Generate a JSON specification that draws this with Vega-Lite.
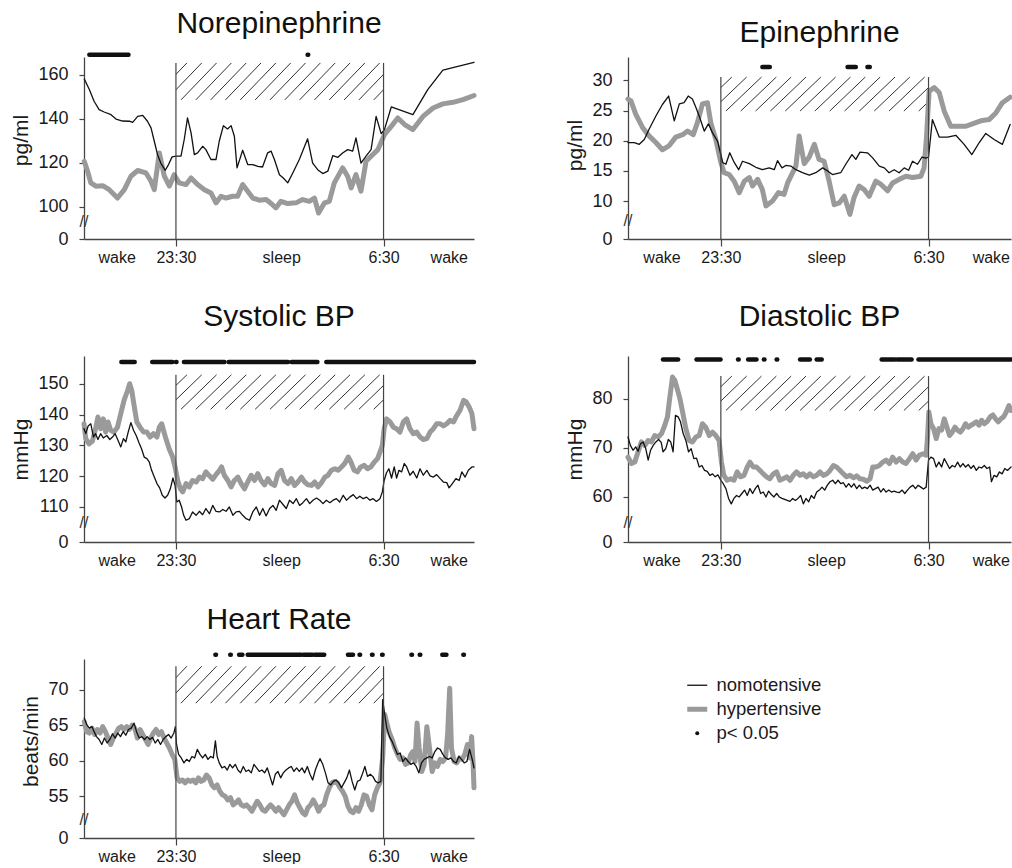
{
"$schema": "https://vega.github.io/schema/vega-lite/v6.json",
"padding": {"left": 10, "top": 8, "right": 0, "bottom": 0},
"datasets": {
"hatch": [{"h0":-0.83,"h1":0.37},{"h0":-0.33,"h1":0.87},{"h0":0.17,"h1":1.37},{"h0":0.67,"h1":1.87},{"h0":1.17,"h1":2.37},{"h0":1.67,"h1":2.87},{"h0":2.17,"h1":3.37},{"h0":2.67,"h1":3.87},{"h0":3.17,"h1":4.37},{"h0":3.67,"h1":4.87},{"h0":4.17,"h1":5.37},{"h0":4.67,"h1":5.87},{"h0":5.17,"h1":6.37},{"h0":5.67,"h1":6.87},{"h0":6.17,"h1":7.37},{"h0":6.67,"h1":7.87}],
"masks": [{"a":-1.0,"b":0},{"a":7,"b":8.0}],
"vl": [{"t":0},{"t":7}],
"brk": [{"lab":"//"}],
"ne_n": [{"t":-3.09,"v":158},{"t":-2.92,"v":153.2},{"t":-2.76,"v":147.9},{"t":-2.59,"v":144.1},{"t":-2.42,"v":143},{"t":-2.19,"v":141.8},{"t":-2.02,"v":139.8},{"t":-1.8,"v":138.9},{"t":-1.57,"v":138.8},{"t":-1.46,"v":138.3},{"t":-1.29,"v":141},{"t":-1.12,"v":141.5},{"t":-0.96,"v":138.8},{"t":-0.84,"v":135.8},{"t":-0.73,"v":129.7},{"t":-0.62,"v":123.6},{"t":-0.51,"v":119.8},{"t":-0.36,"v":116.5},{"t":-0.25,"v":119.1},{"t":-0.13,"v":122.6},{"t":0,"v":122.9},{"t":0.17,"v":122.9},{"t":0.28,"v":130.5},{"t":0.39,"v":140.3},{"t":0.51,"v":133.5},{"t":0.62,"v":123.6},{"t":0.73,"v":124.4},{"t":0.9,"v":127.4},{"t":1.01,"v":125.9},{"t":1.18,"v":121.4},{"t":1.35,"v":121.4},{"t":1.46,"v":129.7},{"t":1.6,"v":136.8},{"t":1.74,"v":135.3},{"t":1.86,"v":136.8},{"t":1.97,"v":132},{"t":2.06,"v":117.6},{"t":2.25,"v":125.6},{"t":2.42,"v":119.1},{"t":2.59,"v":119.1},{"t":2.76,"v":118.3},{"t":2.92,"v":118},{"t":3.09,"v":124.4},{"t":3.21,"v":125.2},{"t":3.32,"v":121.4},{"t":3.49,"v":114.5},{"t":3.62,"v":113},{"t":3.77,"v":110.8},{"t":3.94,"v":115.3},{"t":4.16,"v":121.4},{"t":4.44,"v":130.8},{"t":4.61,"v":119.8},{"t":4.78,"v":116.8},{"t":4.95,"v":115},{"t":5.12,"v":116.1},{"t":5.29,"v":123.2},{"t":5.46,"v":122.4},{"t":5.62,"v":124.4},{"t":5.79,"v":125.9},{"t":5.96,"v":125.2},{"t":6.07,"v":131.2},{"t":6.24,"v":119.8},{"t":6.41,"v":122.9},{"t":6.58,"v":125.9},{"t":6.75,"v":141},{"t":6.92,"v":133.2},{"t":7.03,"v":135},{"t":7.26,"v":145.3},{"t":7.99,"v":141.8},{"t":8.49,"v":153.2},{"t":9.0,"v":162},{"t":10.05,"v":165.6}],
"ne_h": [{"t":-3.09,"v":120.6},{"t":-2.98,"v":116.1},{"t":-2.87,"v":110.8},{"t":-2.7,"v":109.3},{"t":-2.47,"v":109.5},{"t":-2.25,"v":107.7},{"t":-1.97,"v":103.9},{"t":-1.74,"v":107.7},{"t":-1.52,"v":113.8},{"t":-1.29,"v":116.4},{"t":-1.01,"v":115.3},{"t":-0.84,"v":111.5},{"t":-0.73,"v":107.7},{"t":-0.56,"v":124.4},{"t":-0.39,"v":113.8},{"t":-0.22,"v":109.3},{"t":-0.06,"v":114.5},{"t":0.11,"v":110.8},{"t":0.34,"v":110},{"t":0.51,"v":113},{"t":0.73,"v":110},{"t":0.96,"v":107.7},{"t":1.18,"v":106.2},{"t":1.35,"v":101.7},{"t":1.52,"v":104.7},{"t":1.69,"v":103.9},{"t":1.91,"v":104.7},{"t":2.08,"v":104.7},{"t":2.25,"v":110},{"t":2.42,"v":107},{"t":2.59,"v":103.9},{"t":2.81,"v":102.9},{"t":3.04,"v":103.2},{"t":3.21,"v":101.4},{"t":3.37,"v":99.4},{"t":3.54,"v":102.4},{"t":3.77,"v":101.4},{"t":4.05,"v":101.7},{"t":4.27,"v":103.2},{"t":4.5,"v":102.4},{"t":4.67,"v":103.9},{"t":4.81,"v":97.1},{"t":5.01,"v":101.7},{"t":5.17,"v":102.4},{"t":5.34,"v":110.8},{"t":5.62,"v":117.6},{"t":5.79,"v":113.8},{"t":5.91,"v":108.5},{"t":6.07,"v":114.5},{"t":6.24,"v":107},{"t":6.41,"v":120.6},{"t":6.58,"v":122.9},{"t":6.81,"v":125.9},{"t":7.03,"v":132.7},{"t":7.26,"v":136.5},{"t":7.48,"v":140.3},{"t":7.71,"v":137.3},{"t":7.99,"v":135},{"t":8.33,"v":141},{"t":8.67,"v":144.8},{"t":9.0,"v":146.7},{"t":9.34,"v":147.4},{"t":9.68,"v":148.6},{"t":10.05,"v":150.5}],
"ne_sig": [{"s":-2.92,"e":-1.6},{"s":4.44,"e":4.46}],
"ep_n": [{"t":-3.13,"v":19.7},{"t":-2.92,"v":19.7},{"t":-2.75,"v":19.4},{"t":-2.58,"v":20.2},{"t":-2.42,"v":21.9},{"t":-2.19,"v":24.1},{"t":-1.97,"v":26},{"t":-1.76,"v":27.4},{"t":-1.57,"v":23.3},{"t":-1.4,"v":26.1},{"t":-1.24,"v":26.3},{"t":-1.1,"v":27.4},{"t":-0.96,"v":26.9},{"t":-0.84,"v":25.5},{"t":-0.71,"v":23.8},{"t":-0.56,"v":21.6},{"t":-0.42,"v":22.8},{"t":-0.28,"v":21.3},{"t":-0.11,"v":19.9},{"t":0.06,"v":16.4},{"t":0.17,"v":16.1},{"t":0.3,"v":18},{"t":0.45,"v":16.4},{"t":0.6,"v":15.2},{"t":0.73,"v":16.6},{"t":0.96,"v":16.2},{"t":1.18,"v":15.6},{"t":1.4,"v":15.2},{"t":1.63,"v":15.5},{"t":1.8,"v":15.2},{"t":1.91,"v":16.7},{"t":2.06,"v":15.5},{"t":2.19,"v":15.9},{"t":2.36,"v":15.8},{"t":2.53,"v":15.2},{"t":2.75,"v":14.7},{"t":2.98,"v":14.3},{"t":3.2,"v":14.7},{"t":3.43,"v":15.5},{"t":3.6,"v":15},{"t":3.76,"v":14.4},{"t":4.04,"v":14.7},{"t":4.21,"v":16.1},{"t":4.42,"v":17.7},{"t":4.55,"v":16.9},{"t":4.69,"v":18.1},{"t":4.94,"v":18},{"t":5.11,"v":17.2},{"t":5.34,"v":15.8},{"t":5.51,"v":15.5},{"t":5.67,"v":14.7},{"t":5.84,"v":15.2},{"t":6.01,"v":14.7},{"t":6.18,"v":15.5},{"t":6.33,"v":15.1},{"t":6.46,"v":16.6},{"t":6.63,"v":16.1},{"t":6.78,"v":17.3},{"t":6.91,"v":17.1},{"t":7.0,"v":17.3},{"t":7.13,"v":23.5},{"t":7.36,"v":20.6},{"t":7.64,"v":20.6},{"t":7.92,"v":20.9},{"t":8.2,"v":19.4},{"t":8.46,"v":17.7},{"t":8.71,"v":19.7},{"t":8.93,"v":21.2},{"t":9.21,"v":20.2},{"t":9.49,"v":19.4},{"t":9.75,"v":22.7}],
"ep_h": [{"t":-3.13,"v":26.9},{"t":-3.03,"v":26.6},{"t":-2.87,"v":24.4},{"t":-2.64,"v":22.2},{"t":-2.42,"v":20.8},{"t":-2.19,"v":19.7},{"t":-1.97,"v":18.5},{"t":-1.74,"v":19.2},{"t":-1.52,"v":20.6},{"t":-1.29,"v":21},{"t":-1.12,"v":21.6},{"t":-0.93,"v":21},{"t":-0.79,"v":23},{"t":-0.62,"v":26.1},{"t":-0.45,"v":26.3},{"t":-0.34,"v":23},{"t":-0.17,"v":20.2},{"t":0,"v":16.4},{"t":0.11,"v":14.7},{"t":0.28,"v":14.4},{"t":0.45,"v":13.3},{"t":0.62,"v":11.4},{"t":0.79,"v":13.3},{"t":0.96,"v":13.9},{"t":1.07,"v":12.5},{"t":1.24,"v":13.6},{"t":1.4,"v":11.9},{"t":1.52,"v":9.2},{"t":1.74,"v":10},{"t":1.94,"v":11.4},{"t":2.13,"v":11.1},{"t":2.25,"v":13},{"t":2.42,"v":14.7},{"t":2.53,"v":15.8},{"t":2.64,"v":20.8},{"t":2.81,"v":16.2},{"t":2.98,"v":17.3},{"t":3.15,"v":19.4},{"t":3.31,"v":16.9},{"t":3.48,"v":16.6},{"t":3.65,"v":13.3},{"t":3.82,"v":9.4},{"t":3.99,"v":9.7},{"t":4.16,"v":10.8},{"t":4.35,"v":7.8},{"t":4.49,"v":10.6},{"t":4.66,"v":12.5},{"t":4.83,"v":11.9},{"t":5.0,"v":10.8},{"t":5.22,"v":13.3},{"t":5.39,"v":12.8},{"t":5.62,"v":11.7},{"t":5.79,"v":13},{"t":6.01,"v":13.6},{"t":6.24,"v":14.1},{"t":6.46,"v":13.9},{"t":6.74,"v":14.1},{"t":6.85,"v":15.5},{"t":6.93,"v":20.5},{"t":7.02,"v":28.2},{"t":7.19,"v":28.8},{"t":7.36,"v":28},{"t":7.53,"v":24.9},{"t":7.75,"v":22.4},{"t":7.98,"v":22.4},{"t":8.26,"v":22.4},{"t":8.48,"v":22.8},{"t":8.76,"v":23.3},{"t":9.04,"v":23.5},{"t":9.27,"v":24.6},{"t":9.49,"v":26.3},{"t":9.75,"v":27.2}],
"ep_sig": [{"s":1.4,"e":1.65},{"s":4.27,"e":4.55},{"s":4.94,"e":5.02}],
"sy_n": [{"t":-3.1,"v":135.4},{"t":-3.04,"v":133.8},{"t":-2.96,"v":136.3},{"t":-2.87,"v":137},{"t":-2.78,"v":132.7},{"t":-2.71,"v":133.8},{"t":-2.63,"v":131.9},{"t":-2.54,"v":133.8},{"t":-2.45,"v":132.4},{"t":-2.33,"v":133.2},{"t":-2.23,"v":131.9},{"t":-2.14,"v":132.7},{"t":-2.05,"v":133.8},{"t":-1.95,"v":131.6},{"t":-1.86,"v":129.5},{"t":-1.77,"v":132.2},{"t":-1.69,"v":131.1},{"t":-1.61,"v":134.3},{"t":-1.52,"v":137.4},{"t":-1.43,"v":134.9},{"t":-1.34,"v":133.2},{"t":-1.25,"v":130.9},{"t":-1.16,"v":128.9},{"t":-1.07,"v":126.2},{"t":-0.98,"v":125.7},{"t":-0.9,"v":124.6},{"t":-0.82,"v":121.9},{"t":-0.73,"v":119.7},{"t":-0.64,"v":117.6},{"t":-0.55,"v":116.2},{"t":-0.46,"v":113.8},{"t":-0.37,"v":112.9},{"t":-0.28,"v":113.8},{"t":-0.19,"v":115.9},{"t":-0.1,"v":119.4},{"t":-0.03,"v":117},{"t":0.03,"v":111.6},{"t":0.11,"v":112.2},{"t":0.19,"v":110},{"t":0.26,"v":107.3},{"t":0.34,"v":105.7},{"t":0.45,"v":106.2},{"t":0.56,"v":108.4},{"t":0.68,"v":107.3},{"t":0.79,"v":108.6},{"t":0.9,"v":107.5},{"t":1.01,"v":109.5},{"t":1.13,"v":107.8},{"t":1.24,"v":110.5},{"t":1.35,"v":108.6},{"t":1.47,"v":108.4},{"t":1.58,"v":109.2},{"t":1.69,"v":108.6},{"t":1.8,"v":110},{"t":1.92,"v":107.3},{"t":2.03,"v":108.4},{"t":2.14,"v":108.6},{"t":2.25,"v":107.3},{"t":2.37,"v":106.2},{"t":2.48,"v":105.7},{"t":2.59,"v":108.4},{"t":2.71,"v":110},{"t":2.82,"v":107.3},{"t":2.93,"v":109.5},{"t":3.04,"v":107.1},{"t":3.16,"v":109.5},{"t":3.27,"v":110.5},{"t":3.38,"v":108.9},{"t":3.49,"v":112.2},{"t":3.61,"v":110.8},{"t":3.72,"v":109.5},{"t":3.83,"v":112.2},{"t":3.95,"v":111.1},{"t":4.06,"v":112.7},{"t":4.17,"v":110.5},{"t":4.28,"v":111.4},{"t":4.4,"v":112.7},{"t":4.51,"v":111.1},{"t":4.62,"v":112.2},{"t":4.74,"v":112.9},{"t":4.85,"v":112.2},{"t":4.96,"v":111.1},{"t":5.07,"v":112.2},{"t":5.19,"v":111.4},{"t":5.3,"v":112.2},{"t":5.41,"v":112.7},{"t":5.52,"v":111.6},{"t":5.64,"v":113.8},{"t":5.75,"v":112.2},{"t":5.86,"v":113.2},{"t":5.98,"v":114},{"t":6.09,"v":112.7},{"t":6.2,"v":113.5},{"t":6.31,"v":112.7},{"t":6.43,"v":113.2},{"t":6.54,"v":112.2},{"t":6.65,"v":112.7},{"t":6.76,"v":111.8},{"t":6.88,"v":112.7},{"t":6.96,"v":114.9},{"t":7.02,"v":118.6},{"t":7.1,"v":121.1},{"t":7.18,"v":122.4},{"t":7.27,"v":119.4},{"t":7.36,"v":123},{"t":7.44,"v":119.4},{"t":7.52,"v":121.9},{"t":7.61,"v":121.4},{"t":7.7,"v":124.1},{"t":7.78,"v":123},{"t":7.89,"v":120.3},{"t":8.0,"v":121.6},{"t":8.12,"v":119.4},{"t":8.23,"v":122.4},{"t":8.34,"v":120.3},{"t":8.46,"v":121.9},{"t":8.57,"v":120.1},{"t":8.68,"v":119.7},{"t":8.79,"v":120.5},{"t":8.91,"v":119.2},{"t":9.02,"v":118.1},{"t":9.13,"v":117.9},{"t":9.21,"v":116.2},{"t":9.32,"v":117.6},{"t":9.44,"v":119.2},{"t":9.55,"v":118.6},{"t":9.64,"v":121.4},{"t":9.75,"v":119.7},{"t":9.86,"v":121.9},{"t":9.98,"v":123},{"t":10.05,"v":123}],
"sy_h": [{"t":-3.1,"v":137},{"t":-3.04,"v":132.2},{"t":-2.93,"v":130.5},{"t":-2.82,"v":131.3},{"t":-2.71,"v":135.4},{"t":-2.63,"v":139.2},{"t":-2.54,"v":135.4},{"t":-2.45,"v":138.6},{"t":-2.37,"v":134.3},{"t":-2.29,"v":137.6},{"t":-2.2,"v":134.9},{"t":-2.09,"v":134.3},{"t":-1.97,"v":135.9},{"t":-1.86,"v":140.3},{"t":-1.75,"v":144.6},{"t":-1.63,"v":147.8},{"t":-1.56,"v":150},{"t":-1.49,"v":147.8},{"t":-1.41,"v":142.9},{"t":-1.32,"v":137.6},{"t":-1.21,"v":135.9},{"t":-1.09,"v":134.3},{"t":-0.98,"v":134.3},{"t":-0.87,"v":132.7},{"t":-0.76,"v":133.8},{"t":-0.64,"v":132.7},{"t":-0.56,"v":135.9},{"t":-0.48,"v":137},{"t":-0.42,"v":134.9},{"t":-0.34,"v":132.2},{"t":-0.23,"v":128.9},{"t":-0.11,"v":126.2},{"t":-0.03,"v":123},{"t":0.06,"v":118.6},{"t":0.15,"v":115.9},{"t":0.23,"v":114.9},{"t":0.34,"v":117.6},{"t":0.45,"v":116.5},{"t":0.56,"v":118.6},{"t":0.68,"v":118.1},{"t":0.79,"v":119.7},{"t":0.9,"v":119.2},{"t":1.01,"v":121.4},{"t":1.13,"v":120.1},{"t":1.24,"v":119},{"t":1.35,"v":120.5},{"t":1.47,"v":121.9},{"t":1.54,"v":123},{"t":1.63,"v":120.3},{"t":1.75,"v":118.6},{"t":1.86,"v":116.5},{"t":1.97,"v":118.6},{"t":2.09,"v":119.7},{"t":2.2,"v":117.6},{"t":2.31,"v":115.9},{"t":2.42,"v":118.1},{"t":2.54,"v":120.3},{"t":2.65,"v":118.6},{"t":2.76,"v":120.8},{"t":2.87,"v":118.6},{"t":2.99,"v":117.2},{"t":3.1,"v":119.2},{"t":3.21,"v":117.6},{"t":3.33,"v":117},{"t":3.44,"v":120.8},{"t":3.55,"v":121.9},{"t":3.66,"v":118.6},{"t":3.78,"v":117.6},{"t":3.89,"v":119.2},{"t":4.0,"v":117},{"t":4.11,"v":118.1},{"t":4.23,"v":119.7},{"t":4.34,"v":118.1},{"t":4.45,"v":117.2},{"t":4.57,"v":117},{"t":4.68,"v":118.1},{"t":4.79,"v":116.5},{"t":4.9,"v":117.8},{"t":5.02,"v":119.7},{"t":5.13,"v":120.3},{"t":5.24,"v":121.9},{"t":5.36,"v":122.4},{"t":5.47,"v":121.9},{"t":5.58,"v":123},{"t":5.69,"v":124.1},{"t":5.81,"v":126.2},{"t":5.9,"v":124.6},{"t":6.01,"v":121.9},{"t":6.12,"v":121.4},{"t":6.23,"v":123},{"t":6.35,"v":123.5},{"t":6.46,"v":122.4},{"t":6.57,"v":123},{"t":6.69,"v":124.6},{"t":6.8,"v":125.7},{"t":6.88,"v":127.8},{"t":6.96,"v":130},{"t":7.02,"v":135.4},{"t":7.1,"v":138.6},{"t":7.22,"v":137.6},{"t":7.33,"v":135.9},{"t":7.44,"v":135.4},{"t":7.55,"v":134.3},{"t":7.67,"v":137.6},{"t":7.78,"v":138.6},{"t":7.89,"v":135.4},{"t":8.0,"v":133.8},{"t":8.12,"v":134.3},{"t":8.23,"v":132.7},{"t":8.34,"v":131.9},{"t":8.46,"v":132.2},{"t":8.57,"v":134.3},{"t":8.68,"v":135.4},{"t":8.79,"v":137},{"t":8.91,"v":137},{"t":9.02,"v":136.3},{"t":9.13,"v":137},{"t":9.24,"v":138.1},{"t":9.36,"v":137.6},{"t":9.47,"v":139.7},{"t":9.58,"v":141.4},{"t":9.7,"v":144.6},{"t":9.79,"v":144.1},{"t":9.89,"v":142.4},{"t":9.98,"v":140.3},{"t":10.05,"v":135.4}],
"sy_sig": [{"s":-1.84,"e":-1.39},{"s":-0.8,"e":-0.12},{"s":0.0,"e":0.02},{"s":0.27,"e":1.64},{"s":1.78,"e":3.78},{"s":3.9,"e":4.77},{"s":5.07,"e":10.05}],
"di_n": [{"t":-3.13,"v":72.2},{"t":-3.05,"v":70.5},{"t":-2.96,"v":69.5},{"t":-2.87,"v":70.2},{"t":-2.79,"v":69.3},{"t":-2.71,"v":70.8},{"t":-2.62,"v":71.2},{"t":-2.53,"v":69.8},{"t":-2.45,"v":67.5},{"t":-2.37,"v":69.5},{"t":-2.28,"v":70.5},{"t":-2.19,"v":71.2},{"t":-2.1,"v":71.7},{"t":-2.01,"v":71.1},{"t":-1.95,"v":69.2},{"t":-1.86,"v":69.8},{"t":-1.77,"v":71.7},{"t":-1.69,"v":71.2},{"t":-1.61,"v":69.2},{"t":-1.53,"v":76.6},{"t":-1.44,"v":76.3},{"t":-1.36,"v":75.3},{"t":-1.27,"v":72.9},{"t":-1.18,"v":71.5},{"t":-1.09,"v":69.2},{"t":-1.0,"v":69.8},{"t":-0.91,"v":67.8},{"t":-0.82,"v":67.9},{"t":-0.73,"v":66.1},{"t":-0.64,"v":66.4},{"t":-0.55,"v":65.4},{"t":-0.46,"v":65.2},{"t":-0.37,"v":64.4},{"t":-0.28,"v":64.7},{"t":-0.19,"v":64.1},{"t":-0.1,"v":64.5},{"t":0,"v":63.4},{"t":0.08,"v":62.7},{"t":0.17,"v":61.7},{"t":0.26,"v":59.7},{"t":0.35,"v":58.6},{"t":0.44,"v":59.7},{"t":0.53,"v":60.3},{"t":0.62,"v":60},{"t":0.71,"v":60.7},{"t":0.8,"v":61.4},{"t":0.89,"v":60.3},{"t":0.98,"v":61.7},{"t":1.07,"v":60.7},{"t":1.16,"v":61.7},{"t":1.25,"v":62.4},{"t":1.34,"v":60.7},{"t":1.43,"v":61},{"t":1.52,"v":60},{"t":1.61,"v":61.2},{"t":1.7,"v":60.5},{"t":1.79,"v":60},{"t":1.88,"v":60.7},{"t":1.97,"v":60},{"t":2.06,"v":59.7},{"t":2.15,"v":59.5},{"t":2.24,"v":59.3},{"t":2.33,"v":59.1},{"t":2.42,"v":59.7},{"t":2.51,"v":59.3},{"t":2.6,"v":59.7},{"t":2.69,"v":60.3},{"t":2.78,"v":58.6},{"t":2.87,"v":59.7},{"t":2.96,"v":59},{"t":3.05,"v":60.3},{"t":3.14,"v":59.7},{"t":3.23,"v":61},{"t":3.32,"v":61.4},{"t":3.41,"v":62},{"t":3.5,"v":61.4},{"t":3.59,"v":62.4},{"t":3.68,"v":63.1},{"t":3.77,"v":63.4},{"t":3.86,"v":62.7},{"t":3.95,"v":63.4},{"t":4.04,"v":62.7},{"t":4.13,"v":62.9},{"t":4.22,"v":62},{"t":4.31,"v":62.7},{"t":4.4,"v":62},{"t":4.49,"v":62.7},{"t":4.58,"v":61.7},{"t":4.67,"v":62.4},{"t":4.76,"v":61.7},{"t":4.85,"v":62},{"t":4.94,"v":61.7},{"t":5.03,"v":62.4},{"t":5.12,"v":61.4},{"t":5.21,"v":61.7},{"t":5.3,"v":62},{"t":5.39,"v":61},{"t":5.48,"v":61.7},{"t":5.57,"v":61},{"t":5.66,"v":61.4},{"t":5.75,"v":61},{"t":5.84,"v":61.2},{"t":5.93,"v":61},{"t":6.02,"v":60.9},{"t":6.11,"v":61.4},{"t":6.2,"v":60.7},{"t":6.29,"v":61.4},{"t":6.38,"v":62},{"t":6.47,"v":62.4},{"t":6.56,"v":61.7},{"t":6.65,"v":62.4},{"t":6.74,"v":62},{"t":6.83,"v":61.6},{"t":6.92,"v":62},{"t":7.0,"v":67.5},{"t":7.08,"v":68.1},{"t":7.17,"v":67.8},{"t":7.26,"v":66.1},{"t":7.35,"v":67.1},{"t":7.44,"v":66.1},{"t":7.53,"v":67.8},{"t":7.62,"v":66.8},{"t":7.71,"v":65.8},{"t":7.8,"v":66.4},{"t":7.89,"v":66.1},{"t":7.98,"v":67.1},{"t":8.07,"v":66.1},{"t":8.16,"v":66.8},{"t":8.25,"v":66.1},{"t":8.34,"v":66.6},{"t":8.43,"v":65.8},{"t":8.52,"v":66.4},{"t":8.61,"v":65.4},{"t":8.7,"v":66.1},{"t":8.79,"v":65.9},{"t":8.88,"v":66.4},{"t":8.97,"v":65.8},{"t":9.06,"v":66.1},{"t":9.12,"v":63.1},{"t":9.21,"v":64.4},{"t":9.3,"v":64.1},{"t":9.39,"v":65.1},{"t":9.48,"v":64.7},{"t":9.57,"v":65.8},{"t":9.66,"v":65.4},{"t":9.78,"v":66.1}],
"di_h": [{"t":-3.13,"v":68.1},{"t":-3.01,"v":66.8},{"t":-2.9,"v":67.1},{"t":-2.79,"v":69.2},{"t":-2.68,"v":71.2},{"t":-2.56,"v":70.5},{"t":-2.45,"v":71.5},{"t":-2.34,"v":71.2},{"t":-2.23,"v":72.5},{"t":-2.11,"v":72.2},{"t":-2.0,"v":72.9},{"t":-1.89,"v":74.6},{"t":-1.8,"v":76.3},{"t":-1.72,"v":80.3},{"t":-1.63,"v":84.4},{"t":-1.55,"v":83.7},{"t":-1.47,"v":82},{"t":-1.38,"v":80},{"t":-1.29,"v":77.3},{"t":-1.18,"v":73.9},{"t":-1.07,"v":71.5},{"t":-0.96,"v":71.2},{"t":-0.84,"v":72.2},{"t":-0.73,"v":72.5},{"t":-0.62,"v":74.9},{"t":-0.51,"v":74.2},{"t":-0.39,"v":72.5},{"t":-0.28,"v":73.2},{"t":-0.17,"v":72.5},{"t":-0.06,"v":71.5},{"t":0.02,"v":67.1},{"t":0.1,"v":64.4},{"t":0.21,"v":63.4},{"t":0.33,"v":63.7},{"t":0.44,"v":63.4},{"t":0.55,"v":65.1},{"t":0.66,"v":64.1},{"t":0.78,"v":64.4},{"t":0.89,"v":66.1},{"t":0.98,"v":67.1},{"t":1.09,"v":66.1},{"t":1.2,"v":66.1},{"t":1.32,"v":65.4},{"t":1.43,"v":64.7},{"t":1.54,"v":64.1},{"t":1.65,"v":63.7},{"t":1.77,"v":64.7},{"t":1.88,"v":65.1},{"t":1.99,"v":63.4},{"t":2.1,"v":63.7},{"t":2.22,"v":64.1},{"t":2.33,"v":63.4},{"t":2.44,"v":64.4},{"t":2.55,"v":65.1},{"t":2.67,"v":64.4},{"t":2.78,"v":64.7},{"t":2.89,"v":64.1},{"t":3.0,"v":64.7},{"t":3.12,"v":64.1},{"t":3.23,"v":64.4},{"t":3.34,"v":65.1},{"t":3.45,"v":64.4},{"t":3.57,"v":64.7},{"t":3.68,"v":65.4},{"t":3.79,"v":66.4},{"t":3.9,"v":66.1},{"t":4.02,"v":65.4},{"t":4.13,"v":64.7},{"t":4.24,"v":64.1},{"t":4.35,"v":64.4},{"t":4.47,"v":63.9},{"t":4.58,"v":64.3},{"t":4.69,"v":63.7},{"t":4.8,"v":63.6},{"t":4.92,"v":63.2},{"t":5.03,"v":63.7},{"t":5.12,"v":66.1},{"t":5.23,"v":66.1},{"t":5.34,"v":66.4},{"t":5.46,"v":67.1},{"t":5.57,"v":67.5},{"t":5.68,"v":66.8},{"t":5.79,"v":68.1},{"t":5.91,"v":67.1},{"t":6.02,"v":67.8},{"t":6.13,"v":67.1},{"t":6.24,"v":66.8},{"t":6.36,"v":67.8},{"t":6.47,"v":68.8},{"t":6.58,"v":67.5},{"t":6.69,"v":68.5},{"t":6.81,"v":68.8},{"t":6.92,"v":68.5},{"t":6.97,"v":72.5},{"t":7.01,"v":77.3},{"t":7.08,"v":74.9},{"t":7.17,"v":73.9},{"t":7.26,"v":71.9},{"t":7.35,"v":73.9},{"t":7.44,"v":73.6},{"t":7.53,"v":75.9},{"t":7.62,"v":74.2},{"t":7.71,"v":72.5},{"t":7.8,"v":73.2},{"t":7.89,"v":74.2},{"t":7.98,"v":73.6},{"t":8.07,"v":73.2},{"t":8.16,"v":73.9},{"t":8.25,"v":74.9},{"t":8.34,"v":74.2},{"t":8.43,"v":74.6},{"t":8.52,"v":74.9},{"t":8.61,"v":75.3},{"t":8.7,"v":74.6},{"t":8.79,"v":75.6},{"t":8.88,"v":74.9},{"t":8.97,"v":75.3},{"t":9.08,"v":76.3},{"t":9.17,"v":76.7},{"t":9.26,"v":75.9},{"t":9.35,"v":75.3},{"t":9.44,"v":75.9},{"t":9.53,"v":76.3},{"t":9.62,"v":77.3},{"t":9.71,"v":78.6},{"t":9.78,"v":77.6}],
"di_sig": [{"s":-1.95,"e":-1.44},{"s":-0.82,"e":-0.01},{"s":0.58,"e":0.6},{"s":0.92,"e":1.2},{"s":1.45,"e":1.47},{"s":1.88,"e":1.9},{"s":2.67,"e":3.0},{"s":3.23,"e":3.4},{"s":5.42,"e":5.87},{"s":5.95,"e":6.43},{"s":6.66,"e":9.78}],
"hr_n": [{"t":-3.09,"v":66},{"t":-3.01,"v":65.1},{"t":-2.92,"v":64.6},{"t":-2.83,"v":64.8},{"t":-2.76,"v":64.1},{"t":-2.68,"v":63.4},{"t":-2.59,"v":63},{"t":-2.5,"v":62.3},{"t":-2.41,"v":63.2},{"t":-2.32,"v":62.5},{"t":-2.23,"v":63},{"t":-2.14,"v":63.8},{"t":-2.05,"v":63.2},{"t":-1.96,"v":63.9},{"t":-1.87,"v":63.4},{"t":-1.78,"v":64.1},{"t":-1.69,"v":63.6},{"t":-1.6,"v":64.4},{"t":-1.51,"v":64.6},{"t":-1.41,"v":65.3},{"t":-1.33,"v":64.1},{"t":-1.24,"v":63.2},{"t":-1.15,"v":63.4},{"t":-1.06,"v":63},{"t":-0.97,"v":63.4},{"t":-0.88,"v":63},{"t":-0.79,"v":63.3},{"t":-0.7,"v":62.5},{"t":-0.61,"v":63},{"t":-0.52,"v":62.3},{"t":-0.43,"v":63},{"t":-0.34,"v":63.4},{"t":-0.25,"v":63.7},{"t":-0.16,"v":63.2},{"t":-0.07,"v":63.9},{"t":-0.02,"v":64.8},{"t":0.02,"v":62.3},{"t":0.09,"v":60.9},{"t":0.18,"v":60.4},{"t":0.27,"v":59.7},{"t":0.36,"v":60.2},{"t":0.45,"v":59.9},{"t":0.54,"v":60.6},{"t":0.63,"v":60.4},{"t":0.72,"v":61.6},{"t":0.81,"v":60.9},{"t":0.9,"v":60.4},{"t":0.99,"v":60.9},{"t":1.08,"v":60.2},{"t":1.17,"v":60.6},{"t":1.26,"v":60.4},{"t":1.33,"v":62.8},{"t":1.39,"v":60.6},{"t":1.46,"v":59.7},{"t":1.55,"v":59},{"t":1.64,"v":59.2},{"t":1.73,"v":58.7},{"t":1.82,"v":59.5},{"t":1.91,"v":59},{"t":2.0,"v":59.5},{"t":2.09,"v":58.7},{"t":2.18,"v":58.3},{"t":2.27,"v":59.2},{"t":2.36,"v":58.5},{"t":2.45,"v":58.7},{"t":2.54,"v":58.3},{"t":2.63,"v":59.5},{"t":2.72,"v":59},{"t":2.81,"v":58.5},{"t":2.9,"v":58.7},{"t":2.99,"v":58.3},{"t":3.08,"v":59},{"t":3.17,"v":57.8},{"t":3.26,"v":56.6},{"t":3.35,"v":58.1},{"t":3.44,"v":58.5},{"t":3.53,"v":57.6},{"t":3.62,"v":58.3},{"t":3.71,"v":58.7},{"t":3.8,"v":59},{"t":3.89,"v":59.2},{"t":3.98,"v":58.5},{"t":4.07,"v":59},{"t":4.16,"v":58.5},{"t":4.25,"v":59},{"t":4.34,"v":58.3},{"t":4.43,"v":59.2},{"t":4.52,"v":58.1},{"t":4.61,"v":57.3},{"t":4.7,"v":58.7},{"t":4.79,"v":59.7},{"t":4.86,"v":60.3},{"t":4.95,"v":59.5},{"t":5.04,"v":58.3},{"t":5.13,"v":56.9},{"t":5.22,"v":56.6},{"t":5.31,"v":57.1},{"t":5.4,"v":57.3},{"t":5.49,"v":56.9},{"t":5.58,"v":56.2},{"t":5.67,"v":56.9},{"t":5.76,"v":57.6},{"t":5.85,"v":58.7},{"t":5.94,"v":57.1},{"t":6.03,"v":55.9},{"t":6.12,"v":57.1},{"t":6.21,"v":57.3},{"t":6.3,"v":58.3},{"t":6.37,"v":59.2},{"t":6.46,"v":57.8},{"t":6.55,"v":58.1},{"t":6.64,"v":57.8},{"t":6.73,"v":57.1},{"t":6.82,"v":56.9},{"t":6.91,"v":57.1},{"t":6.97,"v":68.6},{"t":7.04,"v":66.5},{"t":7.11,"v":64.6},{"t":7.2,"v":63.4},{"t":7.29,"v":62.7},{"t":7.38,"v":61.8},{"t":7.47,"v":60.9},{"t":7.56,"v":61.1},{"t":7.65,"v":59.9},{"t":7.74,"v":60.4},{"t":7.83,"v":59.9},{"t":7.92,"v":59.5},{"t":8.01,"v":59.7},{"t":8.1,"v":59.2},{"t":8.19,"v":58.3},{"t":8.28,"v":59.7},{"t":8.37,"v":60.2},{"t":8.46,"v":60.4},{"t":8.55,"v":60.6},{"t":8.64,"v":60.4},{"t":8.73,"v":61.3},{"t":8.82,"v":61.8},{"t":8.91,"v":61.6},{"t":9.0,"v":60.9},{"t":9.09,"v":60.4},{"t":9.18,"v":60.2},{"t":9.27,"v":60.4},{"t":9.36,"v":59.9},{"t":9.45,"v":59.7},{"t":9.54,"v":60.6},{"t":9.63,"v":60.2},{"t":9.72,"v":59.7},{"t":9.81,"v":59.9},{"t":9.9,"v":61.6},{"t":9.99,"v":60.2},{"t":10.05,"v":59}],
"hr_h": [{"t":-3.09,"v":65.5},{"t":-3.01,"v":64.1},{"t":-2.92,"v":63.9},{"t":-2.83,"v":64.6},{"t":-2.74,"v":63.7},{"t":-2.65,"v":64.4},{"t":-2.56,"v":63.9},{"t":-2.47,"v":64.8},{"t":-2.38,"v":64.1},{"t":-2.29,"v":63.2},{"t":-2.2,"v":62.3},{"t":-2.11,"v":63.2},{"t":-2.02,"v":63.9},{"t":-1.93,"v":64.6},{"t":-1.84,"v":64.8},{"t":-1.75,"v":64.4},{"t":-1.66,"v":64.8},{"t":-1.57,"v":64.4},{"t":-1.48,"v":65},{"t":-1.39,"v":64.6},{"t":-1.3,"v":63.2},{"t":-1.21,"v":64.4},{"t":-1.12,"v":63.7},{"t":-1.03,"v":63},{"t":-0.94,"v":62.3},{"t":-0.85,"v":63.2},{"t":-0.76,"v":63.9},{"t":-0.67,"v":64.4},{"t":-0.58,"v":63.7},{"t":-0.49,"v":64.1},{"t":-0.4,"v":63.2},{"t":-0.31,"v":62.5},{"t":-0.22,"v":61.8},{"t":-0.13,"v":60.9},{"t":-0.04,"v":60.2},{"t":0.04,"v":57.6},{"t":0.13,"v":57.1},{"t":0.22,"v":57.3},{"t":0.31,"v":56.9},{"t":0.4,"v":57.3},{"t":0.49,"v":57.1},{"t":0.58,"v":57.3},{"t":0.67,"v":56.9},{"t":0.76,"v":57.6},{"t":0.85,"v":57.1},{"t":0.94,"v":57.3},{"t":1.03,"v":58},{"t":1.12,"v":57.6},{"t":1.21,"v":56.6},{"t":1.3,"v":56.2},{"t":1.39,"v":56.6},{"t":1.48,"v":55.7},{"t":1.57,"v":55.2},{"t":1.66,"v":55},{"t":1.75,"v":54.5},{"t":1.84,"v":54.8},{"t":1.93,"v":53.8},{"t":2.02,"v":54.1},{"t":2.11,"v":54.5},{"t":2.2,"v":53.8},{"t":2.29,"v":53.6},{"t":2.38,"v":53.8},{"t":2.47,"v":53.4},{"t":2.56,"v":52.9},{"t":2.65,"v":53.6},{"t":2.74,"v":54.3},{"t":2.83,"v":53.8},{"t":2.92,"v":53.1},{"t":3.01,"v":52.9},{"t":3.1,"v":53.4},{"t":3.19,"v":53.8},{"t":3.28,"v":53.4},{"t":3.37,"v":52.9},{"t":3.46,"v":53.4},{"t":3.55,"v":52.9},{"t":3.64,"v":52.4},{"t":3.73,"v":53.1},{"t":3.82,"v":53.8},{"t":3.91,"v":54.3},{"t":4.0,"v":55.2},{"t":4.09,"v":54.1},{"t":4.18,"v":53.4},{"t":4.27,"v":52.7},{"t":4.36,"v":52.4},{"t":4.45,"v":53.4},{"t":4.54,"v":53.8},{"t":4.63,"v":54.5},{"t":4.72,"v":53.8},{"t":4.81,"v":52.9},{"t":4.9,"v":53.6},{"t":4.99,"v":53.8},{"t":5.08,"v":55.2},{"t":5.17,"v":56.2},{"t":5.26,"v":56.9},{"t":5.35,"v":57.1},{"t":5.44,"v":56.9},{"t":5.53,"v":56.2},{"t":5.62,"v":55.7},{"t":5.71,"v":55},{"t":5.8,"v":53.6},{"t":5.89,"v":52.9},{"t":5.98,"v":52.7},{"t":6.07,"v":53.4},{"t":6.16,"v":52.9},{"t":6.25,"v":53.8},{"t":6.34,"v":55.2},{"t":6.43,"v":55},{"t":6.52,"v":53.8},{"t":6.61,"v":53.1},{"t":6.7,"v":55.2},{"t":6.79,"v":56.2},{"t":6.88,"v":56.9},{"t":6.97,"v":60.4},{"t":7.04,"v":66.5},{"t":7.11,"v":65.3},{"t":7.2,"v":63.9},{"t":7.29,"v":63},{"t":7.38,"v":61.8},{"t":7.47,"v":60.9},{"t":7.56,"v":60.2},{"t":7.65,"v":60.4},{"t":7.74,"v":59.5},{"t":7.83,"v":59.7},{"t":7.92,"v":60.9},{"t":7.99,"v":61.3},{"t":8.06,"v":59.9},{"t":8.13,"v":65.3},{"t":8.2,"v":61.8},{"t":8.29,"v":58.5},{"t":8.37,"v":59.5},{"t":8.46,"v":64.8},{"t":8.55,"v":61.8},{"t":8.64,"v":58.5},{"t":8.73,"v":59.7},{"t":8.82,"v":59.2},{"t":8.91,"v":60.2},{"t":9.0,"v":59.9},{"t":9.09,"v":60.4},{"t":9.16,"v":63.7},{"t":9.23,"v":70.2},{"t":9.29,"v":61.8},{"t":9.38,"v":59.9},{"t":9.47,"v":59.7},{"t":9.56,"v":60.4},{"t":9.65,"v":60.2},{"t":9.74,"v":60.9},{"t":9.83,"v":62.3},{"t":9.9,"v":60.4},{"t":9.97,"v":63.4},{"t":10.02,"v":59.5},{"t":10.05,"v":56.2}],
"hr_sig": [{"s":1.33,"e":1.35},{"s":1.83,"e":1.85},{"s":2.13,"e":2.24},{"s":2.42,"e":4.22},{"s":4.3,"e":4.6},{"s":4.68,"e":5.0},{"s":5.8,"e":5.97},{"s":6.19,"e":6.21},{"s":6.61,"e":6.63},{"s":6.95,"e":6.97},{"s":7.94,"e":7.96},{"s":8.22,"e":8.24},{"s":8.98,"e":9.12},{"s":9.69,"e":9.71}]
},
"columns": 2,
"spacing": {"row": 117, "column": 154},
"bounds": "flush",
"align": "each",
"resolve": {"scale": {"x": "independent", "y": "independent", "stroke": "independent"}, "axis": {"x": "independent", "y": "independent"}},
"concat": [
{
 "width": 390, "height": 182,
 "title": {"text": "Norepinephrine", "offset": 14},
 "layer": [
  {"data": {"name": "hatch"}, "mark": {"type": "rule", "stroke": "#333333", "strokeWidth": 1},
   "encoding": {
    "x": {"field": "h0", "type": "quantitative", "scale": {"domain": [-3.1, 10.05], "nice": false, "zero": false},
      "axis": {"title": null, "values": [-2, 0, 3.55, 7, 9.2], "labelExpr": "datum.value == 0 ? '23:30' : datum.value == 7 ? '6:30' : (datum.value > 1 && datum.value < 6) ? 'sleep' : 'wake'", "tickColor": {"condition": {"test": "datum.value == 0 || datum.value == 7", "value": "#444444"}, "value": "transparent"}}},
    "x2": {"field": "h1"},
    "y": {"datum": 148.5, "type": "quantitative", "scale": {"domain": [0, 93, 168], "range": [182, 165, 0], "nice": false, "zero": false}, "axis": {"title": "pg/ml", "titleY": 83, "format": "d", "values": [0, 100, 120, 140, 160]}},
    "y2": {"datum": 165.3}}},
  {"data": {"name": "masks"}, "mark": {"type": "rect", "fill": "white"}, "encoding": {"x": {"field": "a", "type": "quantitative"}, "x2": {"field": "b"}, "y": {"datum": 148.0, "type": "quantitative"}, "y2": {"datum": 165.8}}},
  {"data": {"name": "ne_h"}, "mark": {"type": "line", "stroke": "#9a9a9a", "strokeWidth": 5}, "encoding": {"x": {"field": "t", "type": "quantitative"}, "y": {"field": "v", "type": "quantitative"}}},
  {"data": {"name": "ne_n"}, "mark": {"type": "line", "stroke": "#111111", "strokeWidth": 1.3}, "encoding": {"x": {"field": "t", "type": "quantitative"}, "y": {"field": "v", "type": "quantitative"}}},
  {"data": {"name": "vl"}, "mark": {"type": "rule", "stroke": "#444444", "strokeWidth": 1.2}, "encoding": {"x": {"field": "t", "type": "quantitative"}, "y": {"datum": 0, "type": "quantitative"}, "y2": {"datum": 165.3}}},
  {"data": {"name": "ne_sig"}, "mark": {"type": "rule", "stroke": "#111111", "strokeWidth": 4.5, "strokeCap": "round"}, "encoding": {"x": {"field": "s", "type": "quantitative"}, "x2": {"field": "e"}, "y": {"datum": 169, "type": "quantitative"}}},
  {"data": {"name": "brk"}, "mark": {"type": "text", "fontSize": 16, "color": "#333333"}, "encoding": {"x": {"datum": -3.1, "type": "quantitative"}, "y": {"datum": 93, "type": "quantitative"}, "text": {"field": "lab"}}}
 ]
},
{
 "width": 383, "height": 182,
 "title": {"text": "Epinephrine", "offset": 9},
 "layer": [
  {"data": {"name": "hatch"}, "mark": {"type": "rule", "stroke": "#333333", "strokeWidth": 1},
   "encoding": {
    "x": {"field": "h0", "type": "quantitative", "scale": {"domain": [-3.13, 9.78], "nice": false, "zero": false},
      "axis": {"title": null, "values": [-2, 0, 3.55, 7, 9.1], "labelExpr": "datum.value == 0 ? '23:30' : datum.value == 7 ? '6:30' : (datum.value > 1 && datum.value < 6) ? 'sleep' : 'wake'", "tickColor": {"condition": {"test": "datum.value == 0 || datum.value == 7", "value": "#444444"}, "value": "transparent"}}},
    "x2": {"field": "h1"},
    "y": {"datum": 24.92, "type": "quantitative", "scale": {"domain": [0, 6.7, 33.87], "range": [182, 164, 0], "nice": false, "zero": false}, "axis": {"title": "pg/ml", "titleY": 88, "format": "d", "values": [0, 10, 15, 20, 25, 30]}},
    "y2": {"datum": 30.55}}},
  {"data": {"name": "masks"}, "mark": {"type": "rect", "fill": "white"}, "encoding": {"x": {"field": "a", "type": "quantitative"}, "x2": {"field": "b"}, "y": {"datum": 24.75, "type": "quantitative"}, "y2": {"datum": 30.72}}},
  {"data": {"name": "ep_h"}, "mark": {"type": "line", "stroke": "#9a9a9a", "strokeWidth": 5}, "encoding": {"x": {"field": "t", "type": "quantitative"}, "y": {"field": "v", "type": "quantitative"}}},
  {"data": {"name": "ep_n"}, "mark": {"type": "line", "stroke": "#111111", "strokeWidth": 1.3}, "encoding": {"x": {"field": "t", "type": "quantitative"}, "y": {"field": "v", "type": "quantitative"}}},
  {"data": {"name": "vl"}, "mark": {"type": "rule", "stroke": "#444444", "strokeWidth": 1.2}, "encoding": {"x": {"field": "t", "type": "quantitative"}, "y": {"datum": 0, "type": "quantitative"}, "y2": {"datum": 30.55}}},
  {"data": {"name": "ep_sig"}, "mark": {"type": "rule", "stroke": "#111111", "strokeWidth": 4.5, "strokeCap": "round"}, "encoding": {"x": {"field": "s", "type": "quantitative"}, "x2": {"field": "e"}, "y": {"datum": 32.2, "type": "quantitative"}}},
  {"data": {"name": "brk"}, "mark": {"type": "text", "fontSize": 16, "color": "#333333"}, "encoding": {"x": {"datum": -3.13, "type": "quantitative"}, "y": {"datum": 6.7, "type": "quantitative"}, "text": {"field": "lab"}}}
 ]
},
{
 "width": 390, "height": 186,
 "title": {"text": "Systolic BP", "offset": 24},
 "layer": [
  {"data": {"name": "hatch"}, "mark": {"type": "rule", "stroke": "#333333", "strokeWidth": 1},
   "encoding": {
    "x": {"field": "h0", "type": "quantitative", "scale": {"domain": [-3.1, 10.05], "nice": false, "zero": false},
      "axis": {"title": null, "values": [-2, 0, 3.55, 7, 9.2], "labelExpr": "datum.value == 0 ? '23:30' : datum.value == 7 ? '6:30' : (datum.value > 1 && datum.value < 6) ? 'sleep' : 'wake'", "tickColor": {"condition": {"test": "datum.value == 0 || datum.value == 7", "value": "#444444"}, "value": "transparent"}}},
    "x2": {"field": "h1"},
    "y": {"datum": 141.7, "type": "quantitative", "scale": {"domain": [0, 104.8, 159], "range": [186, 167, 0], "nice": false, "zero": false}, "axis": {"title": "mmHg", "format": "d", "values": [0, 110, 120, 130, 140, 150]}},
    "y2": {"datum": 152.9}}},
  {"data": {"name": "masks"}, "mark": {"type": "rect", "fill": "white"}, "encoding": {"x": {"field": "a", "type": "quantitative"}, "x2": {"field": "b"}, "y": {"datum": 141.4, "type": "quantitative"}, "y2": {"datum": 153.2}}},
  {"data": {"name": "sy_h"}, "mark": {"type": "line", "stroke": "#9a9a9a", "strokeWidth": 5}, "encoding": {"x": {"field": "t", "type": "quantitative"}, "y": {"field": "v", "type": "quantitative"}}},
  {"data": {"name": "sy_n"}, "mark": {"type": "line", "stroke": "#111111", "strokeWidth": 1.3}, "encoding": {"x": {"field": "t", "type": "quantitative"}, "y": {"field": "v", "type": "quantitative"}}},
  {"data": {"name": "vl"}, "mark": {"type": "rule", "stroke": "#444444", "strokeWidth": 1.2}, "encoding": {"x": {"field": "t", "type": "quantitative"}, "y": {"datum": 0, "type": "quantitative"}, "y2": {"datum": 152.9}}},
  {"data": {"name": "sy_sig"}, "mark": {"type": "rule", "stroke": "#111111", "strokeWidth": 4.5, "strokeCap": "round"}, "encoding": {"x": {"field": "s", "type": "quantitative"}, "x2": {"field": "e"}, "y": {"datum": 157.04, "type": "quantitative"}}},
  {"data": {"name": "brk"}, "mark": {"type": "text", "fontSize": 16, "color": "#333333"}, "encoding": {"x": {"datum": -3.1, "type": "quantitative"}, "y": {"datum": 104.8, "type": "quantitative"}, "text": {"field": "lab"}}}
 ]
},
{
 "width": 383, "height": 186,
 "title": {"text": "Diastolic BP", "offset": 24},
 "layer": [
  {"data": {"name": "hatch"}, "mark": {"type": "rule", "stroke": "#333333", "strokeWidth": 1},
   "encoding": {
    "x": {"field": "h0", "type": "quantitative", "scale": {"domain": [-3.13, 9.78], "nice": false, "zero": false},
      "axis": {"title": null, "values": [-2, 0, 3.55, 7, 9.1], "labelExpr": "datum.value == 0 ? '23:30' : datum.value == 7 ? '6:30' : (datum.value > 1 && datum.value < 6) ? 'sleep' : 'wake'", "tickColor": {"condition": {"test": "datum.value == 0 || datum.value == 7", "value": "#444444"}, "value": "transparent"}}},
    "x2": {"field": "h1"},
    "y": {"datum": 77.6, "type": "quantitative", "scale": {"domain": [0, 54.7, 88.69], "range": [186, 167, 0], "nice": false, "zero": false}, "axis": {"title": "mmHg", "format": "d", "values": [0, 60, 70, 80]}},
    "y2": {"datum": 84.6}}},
  {"data": {"name": "masks"}, "mark": {"type": "rect", "fill": "white"}, "encoding": {"x": {"field": "a", "type": "quantitative"}, "x2": {"field": "b"}, "y": {"datum": 77.4, "type": "quantitative"}, "y2": {"datum": 84.8}}},
  {"data": {"name": "di_h"}, "mark": {"type": "line", "stroke": "#9a9a9a", "strokeWidth": 5}, "encoding": {"x": {"field": "t", "type": "quantitative"}, "y": {"field": "v", "type": "quantitative"}}},
  {"data": {"name": "di_n"}, "mark": {"type": "line", "stroke": "#111111", "strokeWidth": 1.3}, "encoding": {"x": {"field": "t", "type": "quantitative"}, "y": {"field": "v", "type": "quantitative"}}},
  {"data": {"name": "vl"}, "mark": {"type": "rule", "stroke": "#444444", "strokeWidth": 1.2}, "encoding": {"x": {"field": "t", "type": "quantitative"}, "y": {"datum": 0, "type": "quantitative"}, "y2": {"datum": 84.6}}},
  {"data": {"name": "di_sig"}, "mark": {"type": "rule", "stroke": "#111111", "strokeWidth": 4.5, "strokeCap": "round"}, "encoding": {"x": {"field": "s", "type": "quantitative"}, "x2": {"field": "e"}, "y": {"datum": 88.0, "type": "quantitative"}}},
  {"data": {"name": "brk"}, "mark": {"type": "text", "fontSize": 16, "color": "#333333"}, "encoding": {"x": {"datum": -3.13, "type": "quantitative"}, "y": {"datum": 54.7, "type": "quantitative"}, "text": {"field": "lab"}}}
 ]
},
{
 "width": 390, "height": 179,
 "title": {"text": "Heart Rate", "offset": 17},
 "layer": [
  {"data": {"name": "hatch"}, "mark": {"type": "rule", "stroke": "#333333", "strokeWidth": 1},
   "encoding": {
    "x": {"field": "h0", "type": "quantitative", "scale": {"domain": [-3.1, 10.05], "nice": false, "zero": false},
      "axis": {"title": null, "values": [-2, 0, 3.55, 7, 9.2], "labelExpr": "datum.value == 0 ? '23:30' : datum.value == 7 ? '6:30' : (datum.value > 1 && datum.value < 6) ? 'sleep' : 'wake'", "tickColor": {"condition": {"test": "datum.value == 0 || datum.value == 7", "value": "#444444"}, "value": "transparent"}}},
    "x2": {"field": "h1"},
    "y": {"datum": 68.1, "type": "quantitative", "scale": {"domain": [0, 51.67, 74.32], "range": [179, 161, 0], "nice": false, "zero": false}, "axis": {"title": "beats/min", "titleY": 82, "format": "d", "values": [0, 55, 60, 65, 70]}},
    "y2": {"datum": 73.3}}},
  {"data": {"name": "masks"}, "mark": {"type": "rect", "fill": "white"}, "encoding": {"x": {"field": "a", "type": "quantitative"}, "x2": {"field": "b"}, "y": {"datum": 67.95, "type": "quantitative"}, "y2": {"datum": 73.45}}},
  {"data": {"name": "hr_h"}, "mark": {"type": "line", "strokeWidth": 5}, "encoding": {"x": {"field": "t", "type": "quantitative"}, "y": {"field": "v", "type": "quantitative"},
    "stroke": {"datum": "hypertensive", "type": "nominal",
      "scale": {"domain": ["nomotensive", "hypertensive", "p< 0.05"], "range": ["#111111", "#9a9a9a", "#111111"]},
      "legend": {"orient": "none", "legendX": 604, "legendY": 17, "title": null, "labelFontSize": 18.5, "labelFont": "Liberation Sans", "labelColor": "#1a1a1a", "rowPadding": 5, "labelOffset": 10,
        "symbolType": {"expr": "datum.value === 'p< 0.05' ? 'circle' : 'stroke'"},
        "symbolSize": {"expr": "datum.value === 'p< 0.05' ? 16 : 400"},
        "symbolStrokeWidth": {"expr": "datum.value === 'hypertensive' ? 5 : datum.value === 'nomotensive' ? 1.3 : 0"},
        "symbolFillColor": {"expr": "datum.value === 'p< 0.05' ? '#111111' : 'transparent'"}}}}},
  {"data": {"name": "hr_n"}, "mark": {"type": "line", "stroke": "#111111", "strokeWidth": 1.3}, "encoding": {"x": {"field": "t", "type": "quantitative"}, "y": {"field": "v", "type": "quantitative"}}},
  {"data": {"name": "vl"}, "mark": {"type": "rule", "stroke": "#444444", "strokeWidth": 1.2}, "encoding": {"x": {"field": "t", "type": "quantitative"}, "y": {"datum": 0, "type": "quantitative"}, "y2": {"datum": 73.3}}},
  {"data": {"name": "hr_sig"}, "mark": {"type": "rule", "stroke": "#111111", "strokeWidth": 4.5, "strokeCap": "round"}, "encoding": {"x": {"field": "s", "type": "quantitative"}, "x2": {"field": "e"}, "y": {"datum": 74.92, "type": "quantitative"}}},
  {"data": {"name": "brk"}, "mark": {"type": "text", "fontSize": 16, "color": "#333333"}, "encoding": {"x": {"datum": -3.1, "type": "quantitative"}, "y": {"datum": 51.67, "type": "quantitative"}, "text": {"field": "lab"}}}
 ]
}
],
"config": {
 "view": {"stroke": null},
 "font": "Liberation Sans",
 "axis": {"grid": false, "domainColor": "#444444", "domainWidth": 1.3, "tickColor": "#444444", "tickWidth": 1.2, "labelFont": "Liberation Sans", "labelColor": "#1a1a1a", "titleFont": "Liberation Sans", "titleFontWeight": "normal", "titleColor": "#1a1a1a", "labelOverlap": false, "labelBound": false, "labelFlush": false, "tickCount": 100},
 "axisX": {"labelFontSize": 16, "tickSize": 7, "labelPadding": 3},
 "axisY": {"labelFontSize": 18, "tickSize": 5, "labelPadding": 11, "titleFontSize": 21, "titlePadding": 6},
 "title": {"fontSize": 30, "fontWeight": "normal", "font": "Liberation Sans", "color": "#111111", "anchor": "middle", "frame": "group"},
 "line": {"strokeJoin": "round", "strokeCap": "round"}
}
}
